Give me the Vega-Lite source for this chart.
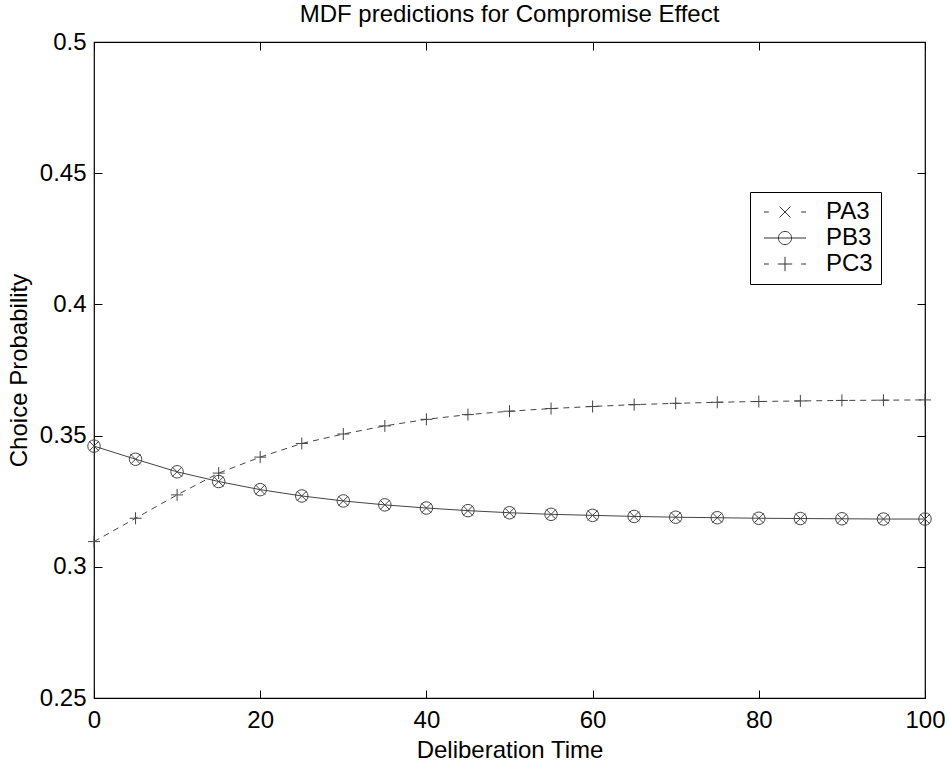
{
  "$schema": "https://vega.github.io/schema/vega-lite/v6.json",
  "width": 831,
  "height": 656,
  "autosize": "none",
  "padding": {"left": 94, "top": 42, "right": 24, "bottom": 72},
  "background": "white",
  "title": {"text": "MDF predictions for Compromise Effect", "fontSize": 24, "fontWeight": "normal", "font": "Liberation Sans", "color": "black", "offset": 3},
  "config": {
    "font": "Liberation Sans",
    "view": {"stroke": "black", "strokeWidth": 1.2},
    "axis": {"domain": false, "grid": false, "labelFlush": false, "labelOverlap": false, "tickColor": "black", "tickSize": -8, "tickWidth": 1, "labelFontSize": 24, "labelColor": "black", "titleFontSize": 24, "titleFontWeight": "normal", "titleColor": "black", "labelFont": "Liberation Sans", "titleFont": "Liberation Sans"}
  },
  "data": {"values": [
    {"t": 0, "s": "PA3", "p": 0.3460}, {"t": 5, "s": "PA3", "p": 0.3410}, {"t": 10, "s": "PA3", "p": 0.3362}, {"t": 15, "s": "PA3", "p": 0.3325}, {"t": 20, "s": "PA3", "p": 0.3294}, {"t": 25, "s": "PA3", "p": 0.3270}, {"t": 30, "s": "PA3", "p": 0.3251}, {"t": 35, "s": "PA3", "p": 0.3236}, {"t": 40, "s": "PA3", "p": 0.3224}, {"t": 45, "s": "PA3", "p": 0.3214}, {"t": 50, "s": "PA3", "p": 0.3206}, {"t": 55, "s": "PA3", "p": 0.3200}, {"t": 60, "s": "PA3", "p": 0.3196}, {"t": 65, "s": "PA3", "p": 0.3192}, {"t": 70, "s": "PA3", "p": 0.3189}, {"t": 75, "s": "PA3", "p": 0.3187}, {"t": 80, "s": "PA3", "p": 0.3185}, {"t": 85, "s": "PA3", "p": 0.3184}, {"t": 90, "s": "PA3", "p": 0.3183}, {"t": 95, "s": "PA3", "p": 0.3182}, {"t": 100, "s": "PA3", "p": 0.3182},
    {"t": 0, "s": "PB3", "p": 0.3460}, {"t": 5, "s": "PB3", "p": 0.3410}, {"t": 10, "s": "PB3", "p": 0.3362}, {"t": 15, "s": "PB3", "p": 0.3325}, {"t": 20, "s": "PB3", "p": 0.3294}, {"t": 25, "s": "PB3", "p": 0.3270}, {"t": 30, "s": "PB3", "p": 0.3251}, {"t": 35, "s": "PB3", "p": 0.3236}, {"t": 40, "s": "PB3", "p": 0.3224}, {"t": 45, "s": "PB3", "p": 0.3214}, {"t": 50, "s": "PB3", "p": 0.3206}, {"t": 55, "s": "PB3", "p": 0.3200}, {"t": 60, "s": "PB3", "p": 0.3196}, {"t": 65, "s": "PB3", "p": 0.3192}, {"t": 70, "s": "PB3", "p": 0.3189}, {"t": 75, "s": "PB3", "p": 0.3187}, {"t": 80, "s": "PB3", "p": 0.3185}, {"t": 85, "s": "PB3", "p": 0.3184}, {"t": 90, "s": "PB3", "p": 0.3183}, {"t": 95, "s": "PB3", "p": 0.3182}, {"t": 100, "s": "PB3", "p": 0.3182},
    {"t": 0, "s": "PC3", "p": 0.3096}, {"t": 5, "s": "PC3", "p": 0.3185}, {"t": 10, "s": "PC3", "p": 0.3274}, {"t": 15, "s": "PC3", "p": 0.3357}, {"t": 20, "s": "PC3", "p": 0.3418}, {"t": 25, "s": "PC3", "p": 0.3470}, {"t": 30, "s": "PC3", "p": 0.3506}, {"t": 35, "s": "PC3", "p": 0.3537}, {"t": 40, "s": "PC3", "p": 0.3562}, {"t": 45, "s": "PC3", "p": 0.3580}, {"t": 50, "s": "PC3", "p": 0.3593}, {"t": 55, "s": "PC3", "p": 0.3603}, {"t": 60, "s": "PC3", "p": 0.3611}, {"t": 65, "s": "PC3", "p": 0.3618}, {"t": 70, "s": "PC3", "p": 0.3623}, {"t": 75, "s": "PC3", "p": 0.3627}, {"t": 80, "s": "PC3", "p": 0.3630}, {"t": 85, "s": "PC3", "p": 0.3632}, {"t": 90, "s": "PC3", "p": 0.3634}, {"t": 95, "s": "PC3", "p": 0.3635}, {"t": 100, "s": "PC3", "p": 0.3636}
  ]},
  "encoding": {
    "x": {"field": "t", "type": "quantitative", "scale": {"domain": [0, 100], "nice": false, "zero": false}, "axis": null},
    "y": {"field": "p", "type": "quantitative", "scale": {"domain": [0.25, 0.5], "nice": false, "zero": false}, "axis": null}
  },
  "layer": [
    {
      "transform": [{"filter": "datum.s === 'PB3'"}],
      "mark": {"type": "line", "color": "#444", "strokeWidth": 1},
      "encoding": {
        "x": {"field": "t", "type": "quantitative", "scale": {"domain": [0, 100], "nice": false, "zero": false}, "axis": {"orient": "bottom", "values": [0, 20, 40, 60, 80, 100], "title": "Deliberation Time", "labelPadding": 18, "titlePadding": 6}},
        "y": {"field": "p", "type": "quantitative", "scale": {"domain": [0.25, 0.5], "nice": false, "zero": false}, "axis": {"orient": "left", "values": [0.25, 0.3, 0.35, 0.4, 0.45, 0.5], "title": "Choice Probability", "labelPadding": 16, "titlePadding": 8, "labelExpr": "format(datum.value, '~g')"}}
      }
    },
    {
      "transform": [{"filter": "datum.s === 'PC3'"}],
      "mark": {"type": "line", "color": "#444", "strokeWidth": 1, "strokeDash": [6, 5]},
      "encoding": {
        "x": {"field": "t", "type": "quantitative", "scale": {"domain": [0, 100], "nice": false, "zero": false}, "axis": {"orient": "top", "values": [0, 20, 40, 60, 80, 100], "labels": false, "title": null}},
        "y": {"field": "p", "type": "quantitative", "scale": {"domain": [0.25, 0.5], "nice": false, "zero": false}, "axis": {"orient": "right", "values": [0.25, 0.3, 0.35, 0.4, 0.45, 0.5], "labels": false, "title": null}}
      }
    },
    {
      "transform": [{"filter": "datum.s === 'PA3'"}],
      "mark": {"type": "point", "shape": "M-1,-1L1,1M-1,1L1,-1", "size": 100, "filled": false, "color": "#444", "strokeWidth": 1, "opacity": 1}
    },
    {
      "transform": [{"filter": "datum.s === 'PB3'"}],
      "mark": {"type": "point", "shape": "circle", "size": 156, "filled": false, "color": "#444", "strokeWidth": 1, "opacity": 1}
    },
    {
      "transform": [{"filter": "datum.s === 'PC3'"}],
      "mark": {"type": "point", "shape": "M-1,0H1M0,-1V1", "size": 144, "filled": false, "color": "#444", "strokeWidth": 1, "opacity": 1}
    },
    {
      "transform": [{"filter": "datum.t < 0"}],
      "mark": {"type": "point", "filled": false, "color": "#333", "strokeWidth": 1, "opacity": 1},
      "encoding": {
        "shape": {
          "field": "s", "type": "nominal",
          "scale": {"domain": ["PA3", "PB3", "PC3"], "range": ["M-1,0H-0.2M1.6,-0.9L3.4,0.9M1.6,0.9L3.4,-0.9M5.2,0H6", "M-1,0H6M3.6,0A1.1,1.1 0 1,1 1.4,0A1.1,1.1 0 1,1 3.6,0", "M-1,0H-0.2M1.3,0H3.7M2.5,-1.2V1.2M5.2,0H6"]},
          "legend": {"orient": "none", "legendX": 656, "legendY": 150, "title": null, "strokeColor": "black", "fillColor": "white", "padding": 8, "labelFontSize": 24, "labelColor": "black", "labelFont": "Liberation Sans", "symbolSize": 144, "symbolStrokeColor": "#333", "symbolFillColor": "transparent", "symbolStrokeWidth": 1, "labelOffset": 44, "rowPadding": 2}
        }
      }
    }
  ],
  "resolve": {"axis": {"x": "independent", "y": "independent"}}
}
